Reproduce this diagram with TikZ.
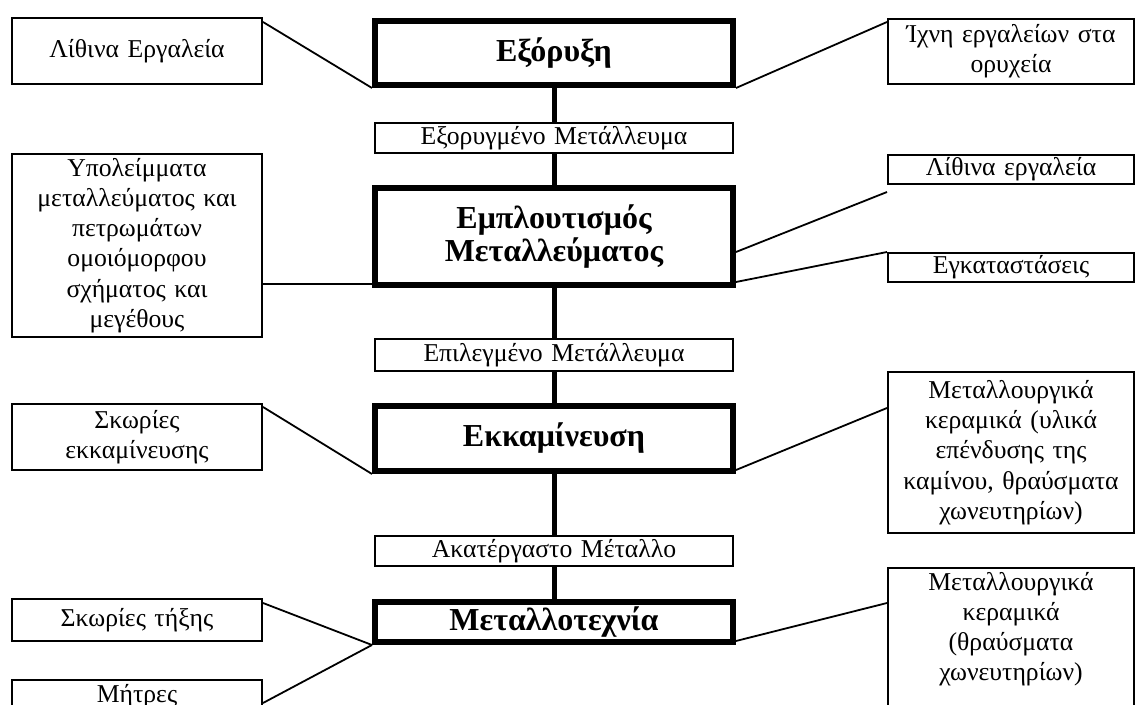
\documentclass[tikz,border=0pt]{standalone}
\usepackage{fontspec}
\setmainfont{Liberation Serif}
\usetikzlibrary{positioning,calc}
\newcommand\stagefont{\fontsize{16}{15}\selectfont\bfseries}
\newcommand\notefont{\fontsize{12.85}{15.1}\selectfont}

\begin{document}
\begin{tikzpicture}[
    x=0.5pt, y=-0.5pt,
    stage/.style={rectangle, draw, line width=3pt, minimum width=179pt, text width=175pt, inner xsep=2pt, inner ysep=0pt, align=center, font=\stagefont},
    product/.style={rectangle, draw, line width=1pt, minimum width=179pt, text width=175pt, inner xsep=2pt, inner ysep=0pt, align=center, font=\notefont},
    trace/.style={rectangle, draw, line width=1pt, minimum width=125pt, text width=121pt, inner xsep=2pt, inner ysep=0pt, align=center, font=\notefont},
    righttrace/.style={trace, minimum width=123pt, text width=119pt},
    flow/.style={line width=2.5pt},
    link/.style={line width=0.9pt}
]
\useasboundingbox (0,0) rectangle (1136,705);
\clip (0,0) rectangle (1136,705);

% Stages
\node[stage, minimum height=32pt] (mining) at (554,53) {Εξόρυξη};
\node[stage, minimum height=48.5pt] (benef) at (554,236.5) {Εμπλουτισμός\\Μεταλλεύματος};
\node[stage, minimum height=32.5pt] (smelt) at (554,438.5) {Εκκαμίνευση};
\node[stage, minimum height=20pt] (craft) at (554,622) {Μεταλλοτεχνία};

% Products between stages
\node[product, minimum height=15pt] (ore) at (554,138) {Εξορυγμένο Μετάλλευμα};
\node[product, minimum height=16pt] (selore) at (554,355) {Επιλεγμένο Μετάλλευμα};
\node[product, minimum height=15pt] (metal) at (554,551) {Ακατέργαστο Μέταλλο};

% Traces, left
\node[trace, minimum height=33pt] (tools) at (137,51) {Λίθινα Εργαλεία};
\node[trace, minimum height=91.5pt] (tailings) at (137,245.5) {Υπολείμματα\\μεταλλεύματος και\\πετρωμάτων\\ομοιόμορφου\\σχήματος και\\μεγέθους};
\node[trace, minimum height=33pt] (slag) at (137,437) {Σκωρίες\\εκκαμίνευσης};
\node[trace, minimum height=21pt] (meltslag) at (137,620) {Σκωρίες τήξης};
\node[trace, anchor=north, text height=11pt, text depth=40pt] (moulds) at (137,679) {Μήτρες};

% Traces, right
\node[righttrace, minimum height=32.5pt] (marks) at (1011,51.5) {Ίχνη εργαλείων στα\\ορυχεία};
\node[righttrace, minimum height=14.5pt] (stonetools) at (1011,169.5) {Λίθινα εργαλεία};
\node[righttrace, minimum height=14.5pt] (plants) at (1011,267.5) {Εγκαταστάσεις};
\node[righttrace, minimum height=80.5pt] (ceramics) at (1011,452.5) {Μεταλλουργικά\\κεραμικά (υλικά\\επένδυσης της\\καμίνου, θραύσματα\\χωνευτηρίων)};
\node[righttrace, anchor=north, text height=11pt, text depth=60pt] (crucibles) at (1011,567) {Μεταλλουργικά\\κεραμικά\\(θραύσματα\\χωνευτηρίων)};

% Flow
\draw[flow] (mining) -- (ore) -- (benef);
\draw[flow] (benef) -- (selore) -- (smelt);
\draw[flow] (smelt) -- (metal) -- (craft);

% Links
\draw[link] ([yshift=-2.5pt]tools.north east) -- (mining.south west);
\draw[link] (mining.south east) -- ([yshift=-2pt]marks.north west);
\draw[link] ([yshift=2pt]benef.south west) -- ([yshift=2pt]benef.south west -| tailings.east);
\draw[link] ([yshift=18pt]benef.south east) -- ([yshift=-3.5pt]stonetools.south west);
\draw[link] ([yshift=3pt]benef.south east) -- (plants.north west);
\draw[link] ([yshift=-2pt]slag.north east) -- (smelt.south west);
\draw[link] ([yshift=2pt]smelt.south east) -- ([yshift=-18.5pt]ceramics.north west);
\draw[link] ([yshift=-2.5pt]meltslag.north east) -- (craft.south west);
\draw[link] ([yshift=-12pt]moulds.north east) -- (craft.south west);
\draw[link] ([yshift=2pt]craft.south east) -- ([yshift=-18pt]crucibles.north west);

\end{tikzpicture}
\end{document}
